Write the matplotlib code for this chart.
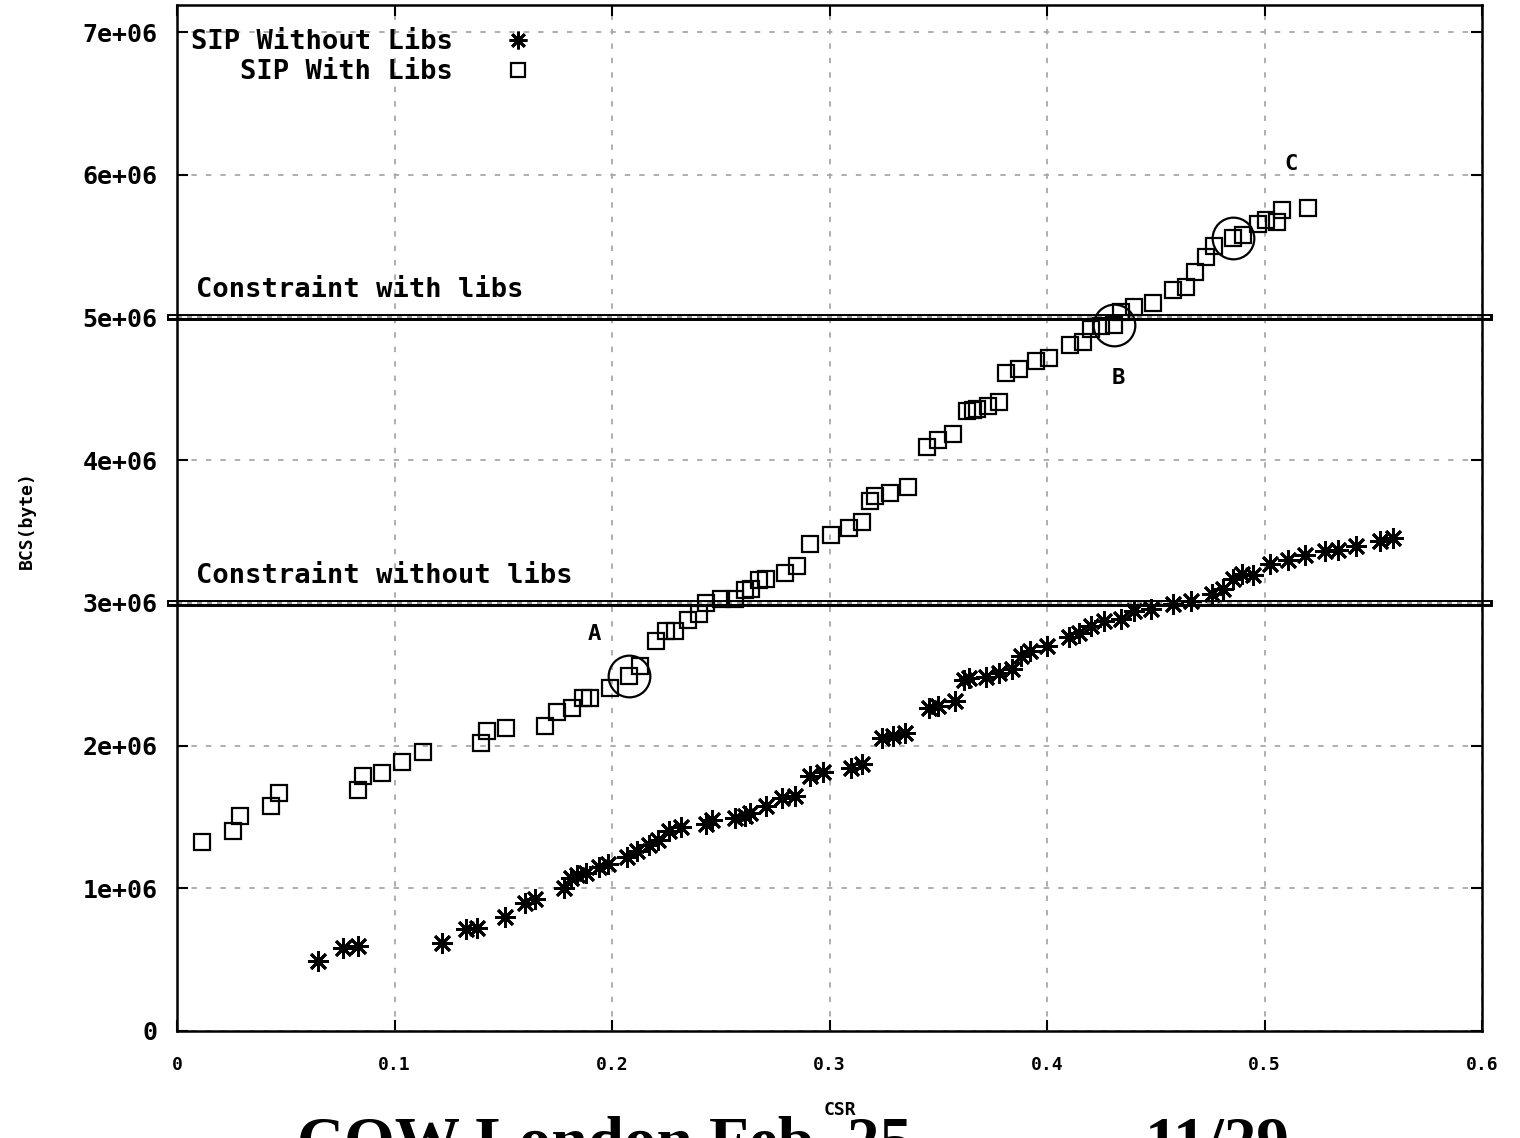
import matplotlib
matplotlib.use("Agg")
import matplotlib.pyplot as plt

# ---------------- data ----------------
with_x = [0.0115, 0.0257, 0.029, 0.0432, 0.0469, 0.0832, 0.0855, 0.0943, 0.1034, 0.113,
          0.1398, 0.1425, 0.1513, 0.169, 0.1747, 0.1816, 0.1867, 0.19, 0.199, 0.208,
          0.213, 0.220, 0.225, 0.229, 0.235, 0.240, 0.243, 0.250, 0.2566, 0.261,
          0.264, 0.2676, 0.271, 0.2795, 0.285, 0.291, 0.3007, 0.309, 0.315, 0.3186,
          0.321, 0.328, 0.336, 0.345, 0.350, 0.357, 0.363, 0.366, 0.368, 0.373,
          0.378, 0.381, 0.387, 0.395, 0.401, 0.4106, 0.4166, 0.420, 0.425, 0.431,
          0.434, 0.440, 0.4487, 0.458, 0.464, 0.468, 0.473, 0.477, 0.4855, 0.490,
          0.497, 0.5006, 0.5057, 0.508, 0.520]
with_y = [1.324, 1.40, 1.51, 1.58, 1.67, 1.69, 1.79, 1.81, 1.885, 1.955,
          2.02, 2.10, 2.12, 2.14, 2.235, 2.26, 2.33, 2.33, 2.40, 2.49,
          2.56, 2.73, 2.80, 2.80, 2.88, 2.92, 3.00, 3.03, 3.03, 3.09,
          3.10, 3.16, 3.17, 3.21, 3.26, 3.41, 3.476, 3.525, 3.567, 3.714,
          3.75, 3.77, 3.81, 4.09, 4.14, 4.18, 4.345, 4.35, 4.36, 4.38,
          4.41, 4.61, 4.64, 4.695, 4.715, 4.81, 4.83, 4.92, 4.94, 4.95,
          5.04, 5.07, 5.10, 5.19, 5.21, 5.32, 5.42, 5.50, 5.56, 5.58,
          5.655, 5.68, 5.67, 5.75, 5.77]

without_x = [0.0648, 0.0763, 0.083, 0.122, 0.133, 0.138, 0.151, 0.160, 0.1646, 0.178,
             0.181, 0.184, 0.188, 0.194, 0.198, 0.207, 0.2115, 0.217, 0.221, 0.226,
             0.2317, 0.243, 0.246, 0.2566, 0.261, 0.2634, 0.2708, 0.278, 0.284, 0.291,
             0.297, 0.310, 0.315, 0.324, 0.329, 0.3347, 0.3457, 0.350, 0.3577, 0.362,
             0.364, 0.372, 0.378, 0.384, 0.388, 0.392, 0.400, 0.410, 0.4147, 0.420,
             0.426, 0.434, 0.440, 0.448, 0.458, 0.466, 0.476, 0.481, 0.4855, 0.4897,
             0.4947, 0.5025, 0.511, 0.5186, 0.528, 0.534, 0.542, 0.553, 0.559]
without_y = [0.49, 0.58, 0.595, 0.617, 0.715, 0.72, 0.80, 0.90, 0.925, 1.00,
             1.07, 1.09, 1.107, 1.15, 1.17, 1.22, 1.26, 1.30, 1.34, 1.40,
             1.43, 1.45, 1.48, 1.49, 1.51, 1.53, 1.58, 1.63, 1.65, 1.79,
             1.815, 1.84, 1.87, 2.05, 2.07, 2.09, 2.26, 2.28, 2.31, 2.46,
             2.47, 2.48, 2.51, 2.54, 2.63, 2.66, 2.70, 2.76, 2.79, 2.84,
             2.87, 2.89, 2.94, 2.96, 2.99, 3.01, 3.06, 3.10, 3.17, 3.20,
             3.195, 3.27, 3.30, 3.335, 3.36, 3.37, 3.40, 3.43, 3.455]

constraints = [3.0e6, 5.0e6]
constraint_labels = ["Constraint without libs", "Constraint with libs"]

circle_x = [0.208, 0.431, 0.4855]
circle_y = [2.49e6, 4.95e6, 5.56e6]
point_labels = ["A", "B", "C"]
point_label_x = [0.1917, 0.4327, 0.512]
point_label_y = [2.78e6, 4.576e6, 6.076e6]

x_ticks = [0, 0.1, 0.2, 0.3, 0.4, 0.5, 0.6]
x_tick_labels = ["0", "0.1", "0.2", "0.3", "0.4", "0.5", "0.6"]
y_ticks = [0, 1e6, 2e6, 3e6, 4e6, 5e6, 6e6, 7e6]
y_tick_labels = ["0", "1e+06", "2e+06", "3e+06", "4e+06", "5e+06", "6e+06", "7e+06"]

series_labels = ["SIP Without Libs", "SIP With Libs"]
footer_left = "COW London Feb. 25"
footer_right = "11/29"

# ---------------- plot ----------------
mono = "DejaVu Sans Mono"
fig = plt.figure(figsize=(15.2, 11.38), dpi=100)
ax = fig.add_axes([177 / 1520, 1 - 1031 / 1138, (1482 - 177) / 1520, (1031 - 5) / 1138])

ax.set_xlim(0, 0.6)
ax.set_ylim(0, 7e6 * 1026 / 999)

ax.grid(True, color="#a8a8a8", linestyle=(0, (3, 5)), linewidth=1.3)
ax.set_axisbelow(True)

for yc, lab in zip(constraints, constraint_labels):
    ax.axhline(yc, xmin=-0.005, xmax=1.005, color="black", lw=5.0, clip_on=False, zorder=2)
    ax.axhline(yc, xmin=-0.005, xmax=1.005, color="white", lw=1.4, clip_on=False, zorder=2.1)
    ax.axhline(yc, color="#8a8a8a", lw=1.2, linestyle=(0, (3, 3)), zorder=2.2)
    ax.text(0.0087, yc + 0.19e6, lab, family=mono, fontweight="bold", fontsize=19.5,
            ha="left", va="center", zorder=4)

wy = [v * 1e6 for v in without_y]
hy = [v * 1e6 for v in with_y]
ax.plot(without_x, wy, linestyle="none", marker=(8, 2, 0), markersize=15,
        markeredgewidth=2.0, color="black", label=series_labels[0], zorder=3)
ax.plot(with_x, hy, linestyle="none", marker="s", markersize=12, markerfacecolor="none",
        markeredgewidth=1.6, color="black", label=series_labels[1], zorder=3)

ax.plot(circle_x, circle_y, linestyle="none", marker="o", markersize=30,
        markerfacecolor="none", markeredgewidth=1.6, color="black", zorder=3)
for lx, ly, lab in zip(point_label_x, point_label_y, point_labels):
    ax.text(lx, ly, lab, family=mono, fontweight="bold", fontsize=16, ha="center", va="center")

ax.set_xticks(x_ticks)
ax.set_xticklabels(x_tick_labels, family=mono, fontweight="bold", fontsize=13)
ax.set_yticks(y_ticks)
ax.set_yticklabels(y_tick_labels, family=mono, fontweight="bold", fontsize=18)
ax.tick_params(direction="in", length=8, width=1.5, top=True, right=True)
ax.tick_params(axis="x", pad=18)
ax.tick_params(axis="y", pad=14)

for s in ax.spines.values():
    s.set_linewidth(1.8)
    s.set_color("black")

fig.text(840 / 1520, 1 - 1110 / 1138, "CSR", family=mono, fontweight="bold", fontsize=13,
         ha="center", va="center")
fig.text(27 / 1520, 1 - 520 / 1138, "BCS(byte)", family=mono, fontweight="bold", fontsize=13,
         ha="center", va="center", rotation=90)

leg = ax.legend(loc="upper left", bbox_to_anchor=(-0.004, 0.995), frameon=False,
                markerfirst=False, prop={"family": mono, "weight": "bold", "size": 19.5},
                handlelength=1.0, handletextpad=1.9, labelspacing=0.15, borderpad=0.2,
                markerscale=0.85)

fig.text(297 / 1520, 1 - 1162 / 1138, footer_left, family="Liberation Serif",
         fontweight="bold", fontsize=47, ha="left", va="baseline")
fig.text(1145 / 1520, 1 - 1162 / 1138, footer_right, family="Liberation Serif",
         fontweight="bold", fontsize=47, ha="left", va="baseline")

fig.savefig("out.png", dpi=100)
